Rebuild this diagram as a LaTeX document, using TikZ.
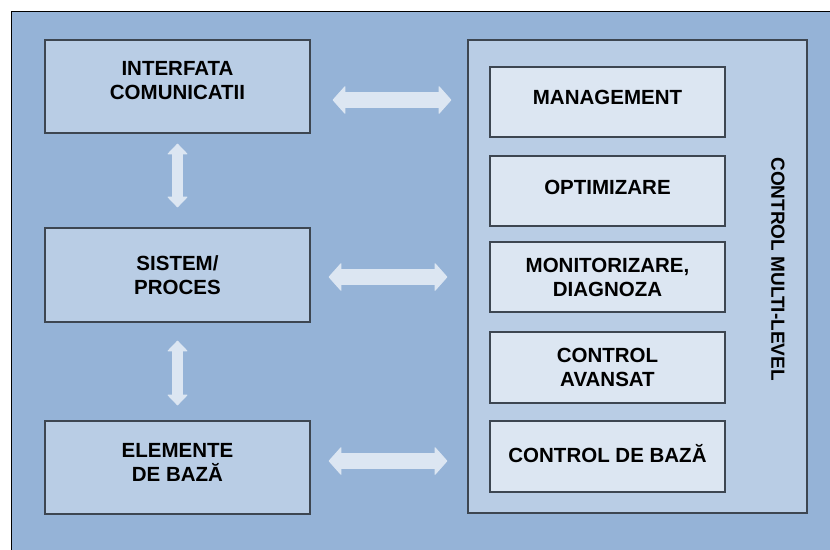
\documentclass[tikz,border=0pt]{standalone}
\usepackage{fontspec}
\setmainfont{Liberation Sans}
\usetikzlibrary{arrows.meta}
\definecolor{bgblue}{HTML}{95B3D7}
\definecolor{boxblue}{HTML}{B9CDE5}
\definecolor{paleblue}{HTML}{DCE6F2}
\definecolor{edgegray}{HTML}{3D4651}
\begin{document}
\begin{tikzpicture}[x=1pt,y=-1pt,
  levelbox/.style={draw=edgegray, line width=1.3pt, fill=boxblue,
    minimum width=265pt, minimum height=93pt, inner sep=0pt},
  tierbox/.style={draw=edgegray, line width=1.3pt, fill=paleblue,
    minimum width=235pt, minimum height=70pt, inner sep=0pt},
  caption/.style={font=\bfseries\fontsize{20.5}{24}\selectfont,
    align=center, inner sep=0pt},
  widearrow/.style={paleblue, line width=16pt,
    {Triangle[length=13pt,width=29pt,line width=1pt,round]}-{Triangle[length=13pt,width=29pt,line width=1pt,round]}},
  slimarrow/.style={paleblue, line width=11pt,
    {Triangle[length=11pt,width=21pt,line width=1pt,round]}-{Triangle[length=11pt,width=21pt,line width=1pt,round]}}]

  % canvas and backdrop
  \useasboundingbox (0,0) rectangle (830,549);
  \fill[white] (0,0) rectangle (830,549);
  \fill[bgblue] (11,11) rectangle (840,560);
  \draw[black, line width=1pt] (11,560) -- (11,11) -- (840,11);

  % left column
  \node[levelbox] (iface) at (177.5,86.5) {};
  \node[levelbox, minimum height=94pt] (sistem) at (177.5,275) {};
  \node[levelbox] (elem) at (177.5,467.5) {};
  \node[caption] (iface-t) at ([yshift=5.5pt]iface.center) {INTERFATA\\COMUNICATII};
  \node[caption] (sistem-t) at (sistem.center) {SISTEM/\\PROCES};
  \node[caption] (elem-t) at ([yshift=5pt]elem.center) {ELEMENTE\\DE BAZĂ};

  % right column: multi-level control
  \node[levelbox, minimum width=339pt, minimum height=473pt] (multi) at (637.5,276.5) {};
  \node[tierbox] (mgmt) at (607.5,102) {};
  \node[tierbox] (optim) at (607.5,191) {};
  \node[tierbox] (monit) at (607.5,277) {};
  \node[tierbox, minimum height=71pt] (avans) at (607.5,367.5) {};
  \node[tierbox, minimum height=71pt] (baza) at (607.5,456.5) {};
  \node[caption] (mgmt-t) at ([yshift=4.5pt]mgmt.center) {MANAGEMENT};
  \node[caption] (optim-t) at ([yshift=4pt]optim.center) {OPTIMIZARE};
  \node[caption] (monit-t) at (monit.center) {MONITORIZARE,\\DIAGNOZA};
  \node[caption] (avans-t) at (avans.center) {CONTROL\\AVANSAT};
  \node[caption] (baza-t) at ([yshift=3pt]baza.center) {CONTROL DE BAZĂ};
  \node[caption, font=\bfseries\fontsize{19}{22}\selectfont, rotate=-90] (multi-t) at (778,269) {CONTROL MULTI-LEVEL};

  % links between the columns
  \draw[widearrow, shorten <=22pt, shorten >=16pt]
    ([yshift=-13.5pt]iface.east) -- ([yshift=-13.5pt]iface.east -| multi.west);
  \draw[widearrow, shorten <=18pt, shorten >=20pt]
    ([yshift=-2pt]sistem.east) -- ([yshift=-2pt]sistem.east -| multi.west);
  \draw[widearrow, shorten <=18pt, shorten >=20pt]
    ([yshift=6.5pt]elem.east) -- ([yshift=6.5pt]elem.east -| multi.west);

  % links within the left column
  \draw[slimarrow, shorten <=10pt, shorten >=20pt] (iface.south) -- (sistem.north);
  \draw[slimarrow, shorten <=18pt, shorten >=15pt] (sistem.south) -- (elem.north);
\end{tikzpicture}
\end{document}
